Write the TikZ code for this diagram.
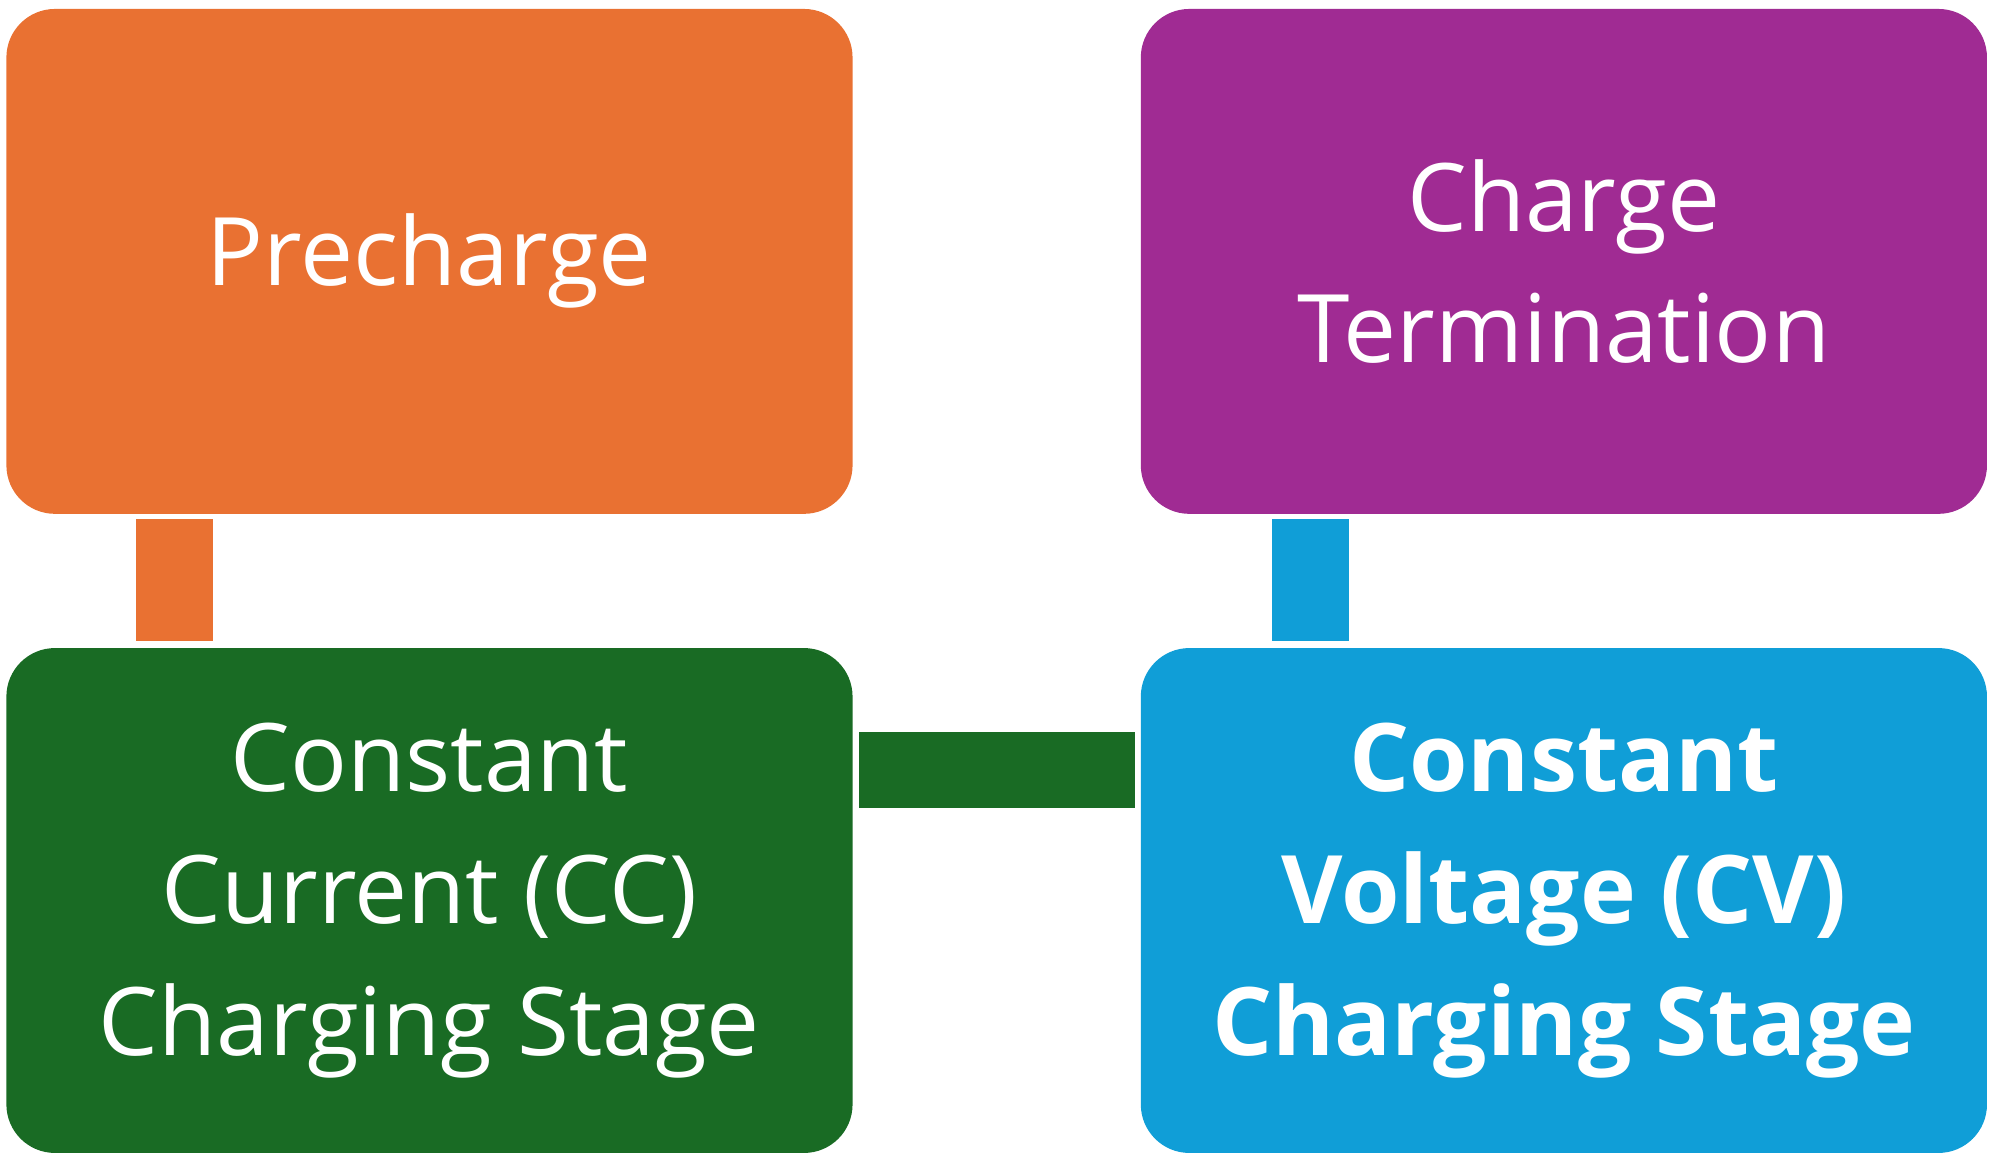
\documentclass[tikz,border=0pt]{standalone}
\usepackage{fontspec}
\setmainfont{Open Sans}
\usetikzlibrary{calc}
\definecolor{cOrange}{RGB}{233,113,50}
\definecolor{cPurple}{RGB}{160,43,147}
\definecolor{cGreen}{RGB}{25,107,36}
\definecolor{cBlue}{RGB}{16,158,215}
\tikzset{every picture/.style={line width=0.75pt}}
\tikzset{
  stage/.style={rounded corners=38pt, minimum width=662pt, minimum height=395pt,
    text=white, align=center, font=\fontsize{74}{103}\selectfont, inner sep=0pt},
  link/.style={line width=60pt}
}
\begin{document}
\begin{tikzpicture}[x=1pt,y=1pt,yscale=-1,xscale=1]
	\useasboundingbox (0,0) rectangle (1560,910);
	% Stages
	\node [stage, fill=cOrange] (pre) at (336,204.5) {Precharge};
	\node [stage, fill=cPurple] (term) at (1223.5,204.5) {Charge\\Termination};
	\node [stage, fill=cGreen] (cc) at (336,704.5) {Constant\\Current (CC)\\Charging Stage};
	\node [stage, fill=cBlue, font=\fontsize{74}{103}\selectfont\bfseries] (cv) at (1223.5,704.5) {Constant\\Voltage (CV)\\Charging Stage};
	
	% Links
	\draw [link, cOrange] ($(pre.south west)+(132,4)$) -- ($(cc.north west)+(132,-5)$);
	\draw [link, cBlue] ($(term.south west)+(133,4)$) -- ($(cv.north west)+(133,-5)$);
	\draw [link, cGreen] ($(cc.east)+(5,-102)$) -- ($(cv.west)+(-4,-102)$);
\end{tikzpicture}
\end{document}
